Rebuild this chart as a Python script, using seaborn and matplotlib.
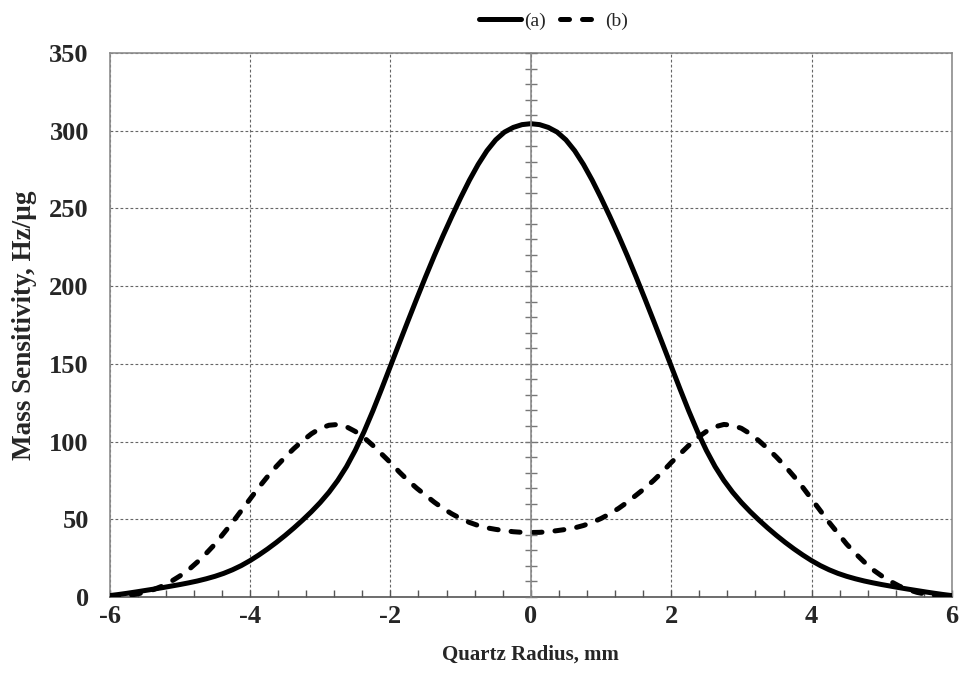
import numpy as np
import pandas as pd
import matplotlib
matplotlib.use("Agg")
import matplotlib.pyplot as plt
import seaborn as sns
from matplotlib.lines import Line2D
from matplotlib.ticker import MultipleLocator

# --- data (curves are symmetric about r = 0) ---
radius = [-6.0, -5.875, -5.75, -5.625, -5.5, -5.375, -5.25, -5.125,
          -5.0, -4.875, -4.75, -4.625, -4.5, -4.375, -4.25, -4.125,
          -4.0, -3.875, -3.75, -3.625, -3.5, -3.375, -3.25, -3.125,
          -3.0, -2.875, -2.75, -2.625, -2.5, -2.375, -2.25, -2.125,
          -2.0, -1.875, -1.75, -1.625, -1.5, -1.375, -1.25, -1.125,
          -1.0, -0.875, -0.75, -0.625, -0.5, -0.375, -0.25, -0.125,
          0.0,
          0.125, 0.25, 0.375, 0.5, 0.625, 0.75, 0.875, 1.0,
          1.125, 1.25, 1.375, 1.5, 1.625, 1.75, 1.875, 2.0,
          2.125, 2.25, 2.375, 2.5, 2.625, 2.75, 2.875, 3.0,
          3.125, 3.25, 3.375, 3.5, 3.625, 3.75, 3.875, 4.0,
          4.125, 4.25, 4.375, 4.5, 4.625, 4.75, 4.875, 5.0,
          5.125, 5.25, 5.375, 5.5, 5.625, 5.75, 5.875, 6.0]

sens_a = [0.9, 1.6, 2.4, 3.25, 4.15, 5.05, 6.0, 7.0,
          8.0, 9.1, 10.3, 11.7, 13.3, 15.2, 17.5, 20.2,
          23.4, 27.0, 30.9, 35.1, 39.6, 44.4, 49.5, 54.9,
          60.8, 67.4, 75.0, 83.9, 94.4, 106.4, 119.7, 133.9,
          148.5, 163.1, 177.6, 191.9, 205.9, 219.5, 232.5, 244.9,
          256.8, 268.1, 278.3, 287.1, 294.1, 299.1, 302.1, 303.9,
          304.5,
          303.9, 302.1, 299.1, 294.1, 287.1, 278.3, 268.1, 256.8,
          244.9, 232.5, 219.5, 205.9, 191.9, 177.6, 163.1, 148.5,
          133.9, 119.7, 106.4, 94.4, 83.9, 75.0, 67.4, 60.8,
          54.9, 49.5, 44.4, 39.6, 35.1, 30.9, 27.0, 23.4,
          20.2, 17.5, 15.2, 13.3, 11.7, 10.3, 9.1, 8.0,
          7.0, 6.0, 5.05, 4.15, 3.25, 2.4, 1.6, 0.9]

sens_b = [0.2, 0.5, 1, 1.8, 3, 4.8, 7, 10,
          13.5, 17.5, 22.5, 28, 34, 41, 48, 55.5,
          63, 70.5, 77.5, 84, 90, 95.5, 100.5, 105,
          108.5, 110.5, 111, 109.5, 106.5, 102.5, 97.5, 92,
          86.5, 80.5, 75, 70, 65.5, 61, 57, 53.5,
          50.5, 48, 46, 44.5, 43.5, 42.7, 42, 41.6,
          41.5,
          41.6, 42, 42.7, 43.5, 44.5, 46, 48, 50.5,
          53.5, 57, 61, 65.5, 70, 75, 80.5, 86.5,
          92, 97.5, 102.5, 106.5, 109.5, 111, 110.5, 108.5,
          105, 100.5, 95.5, 90, 84, 77.5, 70.5, 63,
          55.5, 48, 41, 34, 28, 22.5, 17.5, 13.5,
          10, 7, 4.8, 3, 1.8, 1, 0.5, 0.2]

legend_labels = ["(a)", "(b)"]

df = pd.DataFrame({"r": radius, "a": sens_a, "b": sens_b})

sns.set_style("white")
plt.rcParams["font.family"] = ["Liberation Serif", "DejaVu Serif"]
plt.rcParams["axes.unicode_minus"] = False

fig = plt.figure(figsize=(9.59, 6.87), dpi=100)
ax = fig.add_axes([0.1143, 0.1310, 0.9927 - 0.1143, 0.9229 - 0.1310])

grid_kw = dict(color="#666666", linewidth=0.8, linestyle=(0, (2.5, 2.0)))
ax.grid(True, which="major", **grid_kw)
ax.set_axisbelow(True)

lw = 3.6
dash = (0, (1.8, 2.6))
sns.lineplot(data=df, x="r", y="a", ax=ax, color="black", linewidth=lw,
             solid_joinstyle="round", zorder=3)
sns.lineplot(data=df, x="r", y="b", ax=ax, color="black", linewidth=lw,
             linestyle=dash, dash_capstyle="round", dash_joinstyle="round",
             zorder=3)

ax.set_xlim(-6, 6)
ax.set_ylim(0, 350)
ax.xaxis.set_major_locator(MultipleLocator(2))
ax.xaxis.set_minor_locator(MultipleLocator(0.4))
ax.yaxis.set_major_locator(MultipleLocator(50))

for s in ax.spines.values():
    s.set_color("#8c8c8c")
    s.set_linewidth(1.2)
ax.spines["bottom"].set_color("#555555")

ax.tick_params(axis="x", which="both", direction="in", color="#555555",
               bottom=True, top=False)
ax.tick_params(axis="x", which="major", length=5, width=1, pad=6,
               labelsize=19)
ax.tick_params(axis="x", which="minor", length=5, width=1)
ax.tick_params(axis="y", which="major", left=False, length=0, pad=15,
               labelsize=19)
for lab in ax.get_xticklabels() + ax.get_yticklabels():
    lab.set_fontweight("bold")

ax.set_xlabel("Quartz Radius, mm", fontsize=15, fontweight="bold", labelpad=12)
ax.set_ylabel("Mass Sensitivity, Hz/µg", fontsize=19.5, fontweight="bold", labelpad=9)

# central vertical axis at r = 0 with crossing ticks every 10
ax0 = ax.twinx()
ax0.set_ylim(ax.get_ylim())
for k in ["left", "top", "bottom"]:
    ax0.spines[k].set_visible(False)
ax0.spines["right"].set_position(("data", 0))
ax0.spines["right"].set_color("#8c8c8c")
ax0.spines["right"].set_linewidth(1.2)
ax0.yaxis.set_major_locator(MultipleLocator(10))
ax0.tick_params(axis="y", direction="inout", length=9, width=1,
                color="#777777", labelright=False)
ax0.grid(False)

handles = [Line2D([], [], color="black", linewidth=lw),
           Line2D([], [], color="black", linewidth=lw,
                  linestyle=dash, dash_capstyle="round")]
fig.legend(handles, legend_labels, loc="upper center", ncol=2,
           bbox_to_anchor=(0.577, 1.008), frameon=False, fontsize=14,
           handlelength=2.2, handletextpad=0.15, columnspacing=0.7)

fig.savefig("out.png", dpi=100)
